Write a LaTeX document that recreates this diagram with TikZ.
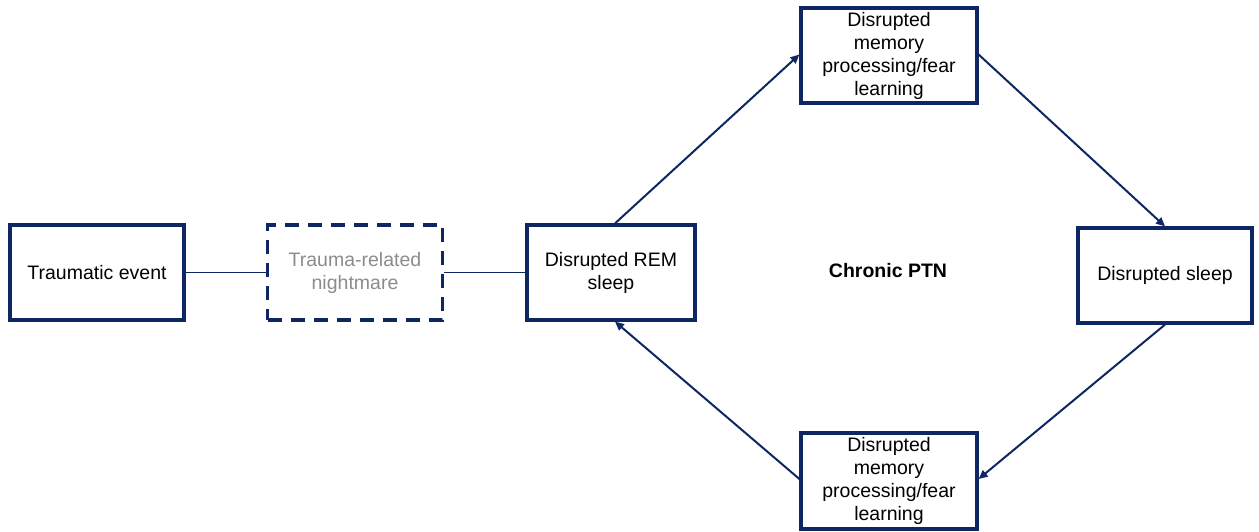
\documentclass[tikz,border=0pt]{standalone}
\usepackage{fontspec}
\setmainfont{Liberation Sans}
\usetikzlibrary{arrows.meta}
\definecolor{navy}{HTML}{0E2662}
\definecolor{dimtext}{HTML}{8C8C8C}
\begin{document}
\begin{tikzpicture}[x=1pt,y=-1pt,
  box/.style={draw=navy,line width=3.2pt,fill=white,inner sep=0pt,
    minimum width=174pt,minimum height=95pt,align=center,
    font=\fontsize{19.5}{23}\selectfont},
  link/.style={draw=navy,line width=1.4pt},
  flow/.style={draw=navy,line width=2pt,-{Triangle[length=9pt,width=8pt]}}]
\useasboundingbox (0,0) rectangle (1259,531);
\node[box] (trauma) at (97,272.5) {Traumatic event};
\node[box,dash pattern=on 14pt off 9pt,text=dimtext,minimum width=175pt] (night) at (355,272.5) {Trauma-related\\nightmare};
\node[box,minimum width=168pt] (rem) at (611,272.5) {Disrupted REM\\sleep};
\node[box,minimum width=176pt] (memtop) at (889,55.5) {Disrupted\\memory\\processing/fear\\learning};
\node[box,minimum width=174pt] (sleep) at (1165,275.5) {\raisebox{-1.5pt}{Disrupted sleep}};
\node[box,minimum width=176pt,minimum height=96pt] (membot) at (889,481) {Disrupted\\memory\\processing/fear\\learning};
\node[font=\bfseries\fontsize{19.5}{23}\selectfont] (ptn) at (888,271) {Chronic PTN};
\draw[link] (trauma) -- (night);
\draw[link] (night) -- (rem);
\draw[flow] ([xshift=4pt]rem.north) -- ([yshift=1pt]memtop.west);
\draw[flow] ([yshift=1pt]memtop.east) -- (sleep.north);
\draw[flow] (sleep.south) -- ([yshift=2pt]membot.east);
\draw[flow] ([yshift=2pt]membot.west) -- ([xshift=4pt]rem.south);
\end{tikzpicture}
\end{document}
